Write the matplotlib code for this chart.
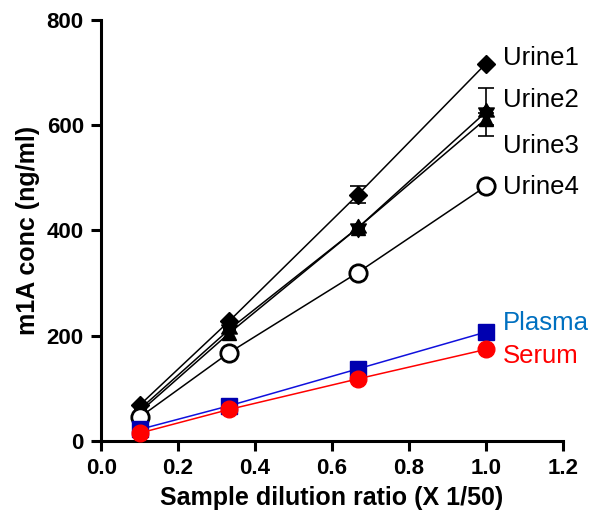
import numpy as np
import matplotlib.pyplot as plt
from matplotlib.path import Path

plt.rcParams['font.family'] = ['Liberation Sans', 'DejaVu Sans']

# Данные
dilution = [0.1, 0.333, 0.667, 1.0]
urine1 = [68, 228, 468, 717]
urine2 = [60, 212, 405, 625]
urine3 = [55, 205, 405, 612]
urine4 = [45, 168, 320, 484]
plasma = [22, 67, 137, 207]
serum = [15, 60, 118, 174]

# Погрешности (только там, где они видны)
urine1_err_x, urine1_err_y, urine1_err = [0.667], [468], [16]
urine2_err_x, urine2_err_y, urine2_err = [1.0], [625], [46]
urine3_err_x, urine3_err_y, urine3_err = [1.0], [612], [12]

labels = ['Urine1', 'Urine2', 'Urine3', 'Urine4', 'Plasma', 'Serum']
label_y = [728, 648, 561, 483, 224, 162]
label_colors = ['black', 'black', 'black', 'black', '#0070C0', '#FF0000']

# Маркер-звезда (два треугольника)
star6 = Path(
    [(0, 1), (-0.866, -0.5), (0.866, -0.5), (0, 1),
     (0, -1), (0.866, 0.5), (-0.866, 0.5), (0, -1)],
    [Path.MOVETO, Path.LINETO, Path.LINETO, Path.CLOSEPOLY,
     Path.MOVETO, Path.LINETO, Path.LINETO, Path.CLOSEPOLY])

fig = plt.figure(figsize=(5.95, 5.25), dpi=100)
ax = fig.add_axes([0.170, 0.16, 0.776, 0.802])

lw = 1.1
eb = dict(fmt='none', ecolor='black', elinewidth=1.2, capthick=1.2, capsize=6, zorder=2)
ax.errorbar(urine1_err_x, urine1_err_y, yerr=urine1_err, **eb)
ax.errorbar(urine2_err_x, urine2_err_y, yerr=urine2_err, **eb)
ax.errorbar(urine3_err_x, urine3_err_y, yerr=urine3_err, **eb)

ax.plot(dilution, urine1, color='black', lw=lw, marker='D', ms=9.5, clip_on=False, zorder=3)
ax.plot(dilution, urine2, color='black', lw=lw, marker=star6, ms=13, clip_on=False, zorder=3)
ax.plot(dilution, urine3, color='black', lw=lw, marker='^', ms=10, clip_on=False, zorder=3)
ax.plot(dilution, urine4, color='black', lw=lw, marker='o', ms=12.5, mfc='white', mew=2,
        clip_on=False, zorder=3)
ax.plot(dilution, plasma, color='#1010DD', lw=lw, marker='s', ms=11, mfc='#0000B0', mec='#0000B0',
        clip_on=False, zorder=3)
ax.plot(dilution, serum, color='#FF0000', lw=lw, marker='o', ms=12, mfc='#FF0000', mec='#FF0000',
        clip_on=False, zorder=3)

# Подписи серий
for lab, yv, c in zip(labels, label_y, label_colors):
    ax.text(1.045, yv, lab, fontsize=18.5, va='center', color=c)

ax.set_xlim(0, 1.2)
ax.set_ylim(0, 800)
xt = np.arange(0, 1.21, 0.2)
ax.set_xticks(xt)
ax.set_yticks([0, 200, 400, 600, 800])
ax.set_xticklabels([f'{v:.1f}' for v in xt], fontweight='bold', fontsize=16)
ax.set_yticklabels(['0', '200', '400', '600', '800'], fontweight='bold', fontsize=16)
ax.set_xlabel('Sample dilution ratio (X 1/50)', fontweight='bold', fontsize=18, labelpad=5)
ax.set_ylabel('m1A conc (ng/ml)', fontweight='bold', fontsize=18, labelpad=5)

for s in ['top', 'right']:
    ax.spines[s].set_visible(False)
for s in ['left', 'bottom']:
    ax.spines[s].set_linewidth(2.2)
ax.tick_params(width=2.2, length=7.5, direction='out', pad=5)

plt.savefig('out.png', dpi=100)
